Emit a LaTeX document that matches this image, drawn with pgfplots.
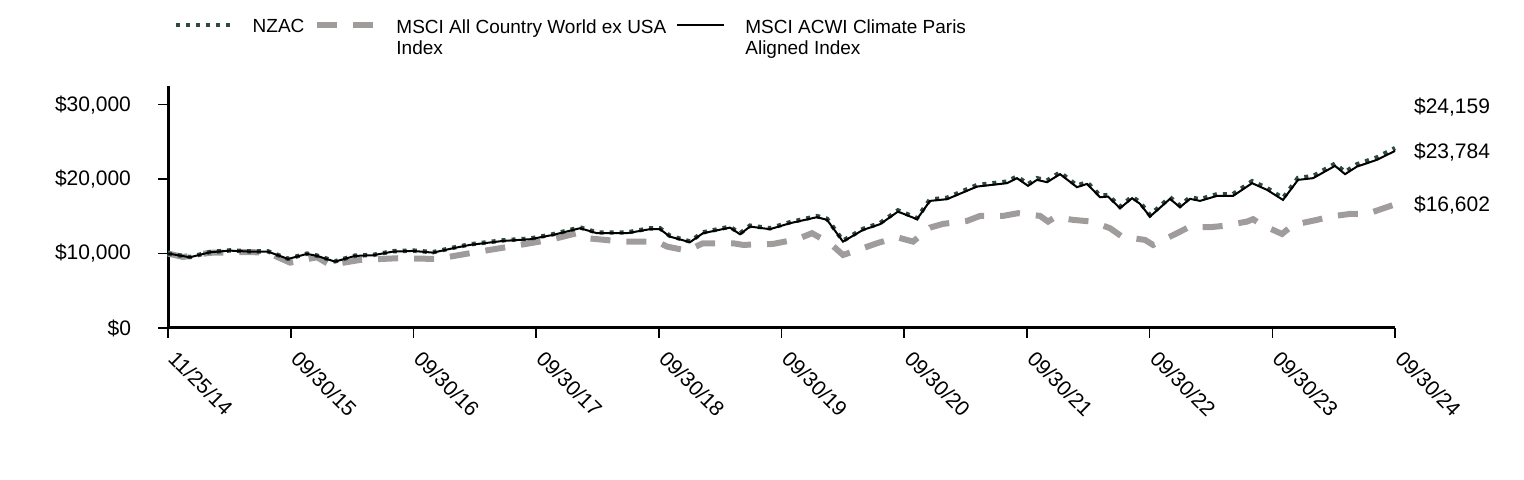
\documentclass[border=0pt]{standalone}
\usepackage{fontspec}
\setmainfont{Liberation Sans}
\usepackage{pgfplots}
\pgfplotsset{compat=1.18}
\usepackage{pgfplotstable}
\definecolor{nzacgreen}{RGB}{44,74,62}
\definecolor{exusagray}{RGB}{160,156,156}

% x = years since 11/25/14 inception
\pgfplotstableread{
x y
0 10000
0.179 9520
0.342 10200
0.505 10420
0.668 10290
0.815 10290
0.978 9300
1.133 9990
1.214 9720
1.361 8950
1.524 9720
1.671 9810
1.834 10310
1.997 10400
2.160 10180
2.323 10780
2.461 11230
2.730 11770
2.950 12000
3.138 12590
3.358 13500
3.496 12830
3.741 12830
3.928 13380
4.010 13380
4.091 12370
4.254 11620
4.360 12840
4.580 13600
4.662 12700
4.743 13740
4.906 13390
5.069 14200
5.289 15020
5.371 14660
5.501 11720
5.664 13300
5.803 14080
5.949 15790
6.104 14760
6.210 17250
6.349 17480
6.593 19190
6.838 19660
6.919 20340
7.009 19300
7.082 20110
7.164 19800
7.270 20890
7.408 19120
7.490 19570
7.596 17760
7.661 17850
7.759 16280
7.857 17630
7.922 16860
8.003 15140
8.166 17550
8.248 16420
8.329 17550
8.411 17280
8.549 17960
8.680 17970
8.835 19700
8.957 18790
9.087 17430
9.209 20150
9.332 20390
9.511 22060
9.593 20940
9.690 21980
9.853 22900
10.000 24159
}\nzac

\pgfplotstableread{
x y
0 10000
0.122 9540
0.342 10100
0.668 10200
0.815 10100
0.994 8780
1.214 9500
1.320 8470
1.565 9140
1.874 9370
2.192 9270
2.486 10120
2.787 10930
3.113 11830
3.333 12730
3.415 12060
3.708 11600
3.985 11600
4.067 10930
4.230 10390
4.360 11380
4.605 11380
4.686 11160
4.931 11290
5.126 11920
5.249 12730
5.395 11380
5.501 9810
5.640 10580
5.778 11380
5.941 12190
6.072 11600
6.210 13480
6.316 13980
6.512 14380
6.618 15050
6.805 15050
6.927 15420
7.107 15050
7.172 14290
7.229 14880
7.376 14520
7.531 14290
7.677 13400
7.775 12270
7.962 11830
8.028 11160
8.223 12730
8.329 13620
8.492 13530
8.598 13710
8.794 14290
8.843 14610
8.916 13840
9.079 12630
9.169 13840
9.364 14520
9.470 14960
9.633 15320
9.772 15320
10.000 16602
}\exusa

\pgfplotstableread{
x y
0 10000
0.179 9500
0.342 10170
0.505 10390
0.668 10260
0.815 10260
0.978 9270
1.133 9950
1.214 9680
1.361 8910
1.524 9680
1.671 9770
1.834 10260
1.997 10350
2.160 10120
2.323 10710
2.461 11160
2.730 11690
2.950 11920
3.138 12500
3.358 13400
3.496 12730
3.741 12730
3.928 13270
4.010 13270
4.091 12270
4.254 11520
4.360 12730
4.580 13480
4.662 12590
4.743 13620
4.906 13270
5.069 14070
5.289 14880
5.371 14520
5.501 11600
5.664 13170
5.803 13940
5.949 15630
6.104 14610
6.210 17070
6.349 17300
6.593 18990
6.838 19450
6.919 20120
7.009 19090
7.082 19890
7.164 19580
7.270 20660
7.408 18910
7.490 19350
7.596 17560
7.661 17650
7.759 16090
7.857 17430
7.922 16670
8.003 14960
8.166 17340
8.248 16220
8.329 17340
8.411 17070
8.549 17740
8.680 17740
8.835 19450
8.957 18550
9.087 17200
9.209 19890
9.332 20120
9.511 21770
9.593 20660
9.690 21680
9.853 22580
10.000 23784
}\climate

\begin{document}
\begin{tikzpicture}
\useasboundingbox (0,0) rectangle (762pt,240pt);
\begin{axis}[
    at={(84pt,76pt)}, anchor=south west,
    scale only axis, width=613.5pt, height=121pt,
    xmin=0, xmax=10, ymin=0, ymax=32500,
    clip=false,
    axis lines=left,
    axis line style={-, line width=1.5pt},
    tick align=outside,
    major tick length=5pt,
    tick style={line width=0.8pt, black},
    xtick={0,1,...,10},
    xticklabels={11/25/14,09/30/15,09/30/16,09/30/17,09/30/18,09/30/19,09/30/20,09/30/21,09/30/22,09/30/23,09/30/24},
    xticklabel style={rotate=-45, anchor=north west, xshift=4pt, yshift=3pt},
    ytick={0,10000,20000,30000},
    scaled y ticks=false,
    yticklabel={\$\pgfmathprintnumber{\tick}},
    yticklabel style={xshift=-10pt},
    /pgf/number format/.cd, fixed, 1000 sep={,}, assume math mode=true,
    /pgfplots/.cd,
    ticklabel style={font=\fontsize{10.5}{12}\selectfont},
    legend style={draw=none, fill=none, inner sep=0pt,
        at={(axis description cs:0.004,1.295)}, anchor=north west,
        font=\fontsize{9.5}{10.5}\selectfont,
        cells={align=left, anchor=north west},
        /tikz/every odd column/.append style={column sep=8pt},
        /tikz/every even column/.append style={column sep=3pt}},
    legend columns=3,
]
\addlegendimage{nzacgreen, line width=2.2pt, dash pattern=on 2pt off 3pt,
    legend image code/.code={\draw (0pt,-5pt) -- (27.5pt,-5pt);}}
\addlegendentry{NZAC}
\addlegendimage{exusagray, line width=3pt, dash pattern=on 10pt off 8pt,
    legend image code/.code={\draw (0pt,-5pt) -- (28pt,-5pt);}}
\addlegendentry{MSCI All Country World ex USA\\Index}
\addlegendimage{black, line width=1pt,
    legend image code/.code={\draw (0pt,-5pt) -- (23.5pt,-5pt);}}
\addlegendentry{MSCI ACWI Climate Paris\\Aligned Index}

\addplot[forget plot, exusagray, line width=3pt, dash pattern=on 10pt off 8pt] table {\exusa};
\addplot[forget plot, nzacgreen, line width=2.2pt, dash pattern=on 2pt off 3pt] table {\nzac};
\addplot[forget plot, black, line width=1pt] table {\climate};

\node[anchor=west, font=\fontsize{10.5}{12}\selectfont] at (axis cs:10,29700) [xshift=6pt] {\$24,159};
\node[anchor=west, font=\fontsize{10.5}{12}\selectfont] at (axis cs:10,23650) [xshift=6pt] {\$23,784};
\node[anchor=west, font=\fontsize{10.5}{12}\selectfont] at (axis cs:10,16530) [xshift=6pt] {\$16,602};
\end{axis}
\end{tikzpicture}
\end{document}
